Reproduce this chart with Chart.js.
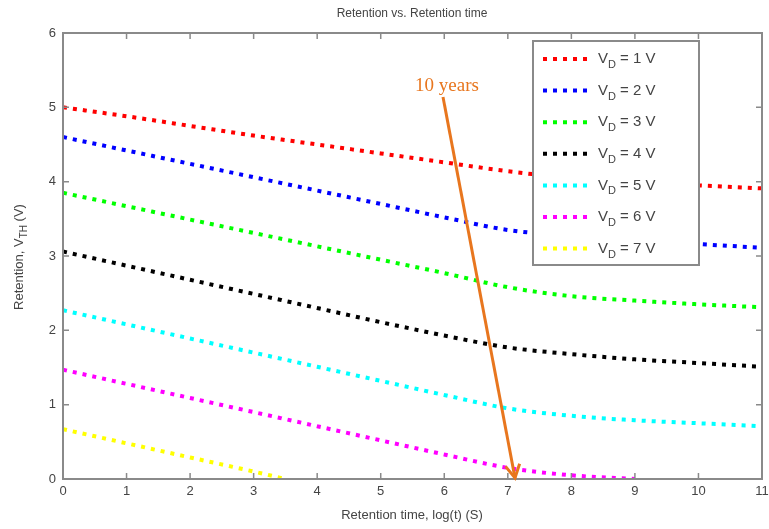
<!DOCTYPE html>
<html>
<head>
<meta charset="utf-8">
<script src="https://cdn.jsdelivr.net/npm/chart.js"></script>
<style>
  html, body { margin: 0; background: #fff; }
  #wrap { width: 769px; height: 529px; }
</style>
</head>
<body>
<div id="wrap"><canvas id="myChart"></canvas></div>
<script>
// retention time, log(t) (S)
const timeX = [0, 1, 2, 3, 4, 5, 6, 7, 8, 9, 10, 11];
const timeX6 = [0, 1, 2, 3, 4, 5, 6, 7, 8, 9];
const timeX7 = [0, 1, 2, 3, 3.5];

// threshold voltage V_TH (V) for each drain voltage
const vd1 = [5.00, 4.88, 4.75, 4.62, 4.50, 4.38, 4.26, 4.14, 4.05, 3.99, 3.95, 3.91];
const vd2 = [4.60, 4.42, 4.24, 4.06, 3.88, 3.70, 3.52, 3.35, 3.27, 3.21, 3.16, 3.11];
const vd3 = [3.85, 3.67, 3.49, 3.31, 3.13, 2.95, 2.77, 2.58, 2.46, 2.40, 2.35, 2.31];
const vd4 = [3.06, 2.87, 2.68, 2.49, 2.30, 2.11, 1.93, 1.77, 1.68, 1.61, 1.56, 1.51];
const vd5 = [2.27, 2.08, 1.89, 1.70, 1.51, 1.32, 1.13, 0.95, 0.85, 0.79, 0.75, 0.71];
const vd6 = [1.47, 1.28, 1.09, 0.90, 0.71, 0.52, 0.33, 0.15, 0.05, 0.00];
const vd7 = [0.67, 0.48, 0.29, 0.10, 0.00];

const drainVolts = [1, 2, 3, 4, 5, 6, 7];
const lineColors = ['#ff0000', '#0000ff', '#00ff00', '#000000', '#00ffff', '#ff00ff', '#ffff00'];
const xTicks = [0, 1, 2, 3, 4, 5, 6, 7, 8, 9, 10, 11];
const yTicks = [0, 1, 2, 3, 4, 5, 6];

const series = [
  [timeX, vd1], [timeX, vd2], [timeX, vd3], [timeX, vd4],
  [timeX, vd5], [timeX6, vd6], [timeX7, vd7]
];

const datasets = series.map((s, i) => ({
  label: 'VD = ' + drainVolts[i] + ' V',
  data: s[0].map((x, j) => ({ x: x, y: s[1][j] })),
  borderColor: lineColors[i],
  backgroundColor: lineColors[i],
  borderWidth: 4,
  borderDash: [4, 6],
  pointRadius: 0,
  cubicInterpolationMode: 'monotone',
  fill: false
}));

const axisGray = '#8a8a8a';
const textGray = '#444';
const orange = '#e8761e';

// frame, inward ticks, titles, legend and annotation
const extras = {
  id: 'extras',
  beforeDraw(chart) {
    const c = chart.ctx;
    c.save();
    c.fillStyle = '#fff';
    c.fillRect(0, 0, chart.width, chart.height);
    c.restore();
  },
  afterDraw(chart) {
    const c = chart.ctx;
    const a = chart.chartArea;
    const xs = chart.scales.x, ys = chart.scales.y;
    c.save();

    // box
    c.strokeStyle = axisGray;
    c.lineWidth = 2;
    c.strokeRect(a.left, a.top, a.right - a.left, a.bottom - a.top);

    // ticks pointing inward
    c.lineWidth = 1.5;
    c.beginPath();
    xTicks.forEach(v => {
      const px = xs.getPixelForValue(v);
      c.moveTo(px, a.bottom); c.lineTo(px, a.bottom - 6);
      c.moveTo(px, a.top); c.lineTo(px, a.top + 6);
    });
    yTicks.forEach(v => {
      const py = ys.getPixelForValue(v);
      c.moveTo(a.left, py); c.lineTo(a.left + 6, py);
      c.moveTo(a.right, py); c.lineTo(a.right - 6, py);
    });
    c.stroke();

    // chart title
    c.fillStyle = textGray;
    c.font = '12px "Liberation Sans", Arial, sans-serif';
    c.textAlign = 'center';
    c.textBaseline = 'middle';
    c.fillText('Retention vs. Retention time', 412, 14);

    // x axis title
    c.font = '13px "Liberation Sans", Arial, sans-serif';
    c.fillText('Retention time, log(t) (S)', 412, 515);

    // y axis title with subscript
    c.save();
    c.translate(19, 257);
    c.rotate(-Math.PI / 2);
    const main = 'Retention, V', sub = 'TH', tail = ' (V)';
    c.font = '13px "Liberation Sans", Arial, sans-serif';
    const w1 = c.measureText(main).width, w3 = c.measureText(tail).width;
    c.font = '10px "Liberation Sans", Arial, sans-serif';
    const w2 = c.measureText(sub).width;
    let x0 = -(w1 + w2 + w3) / 2;
    c.textAlign = 'left';
    c.font = '13px "Liberation Sans", Arial, sans-serif';
    c.fillText(main, x0, 0);
    c.font = '10px "Liberation Sans", Arial, sans-serif';
    c.fillText(sub, x0 + w1, 5);
    c.font = '13px "Liberation Sans", Arial, sans-serif';
    c.fillText(tail, x0 + w1 + w2, 0);
    c.restore();

    // annotation arrow
    const ax0 = 443, ay0 = 97, ax1 = 515, ay1 = 478;
    c.strokeStyle = orange;
    c.lineWidth = 3;
    c.beginPath();
    c.moveTo(ax0, ay0); c.lineTo(ax1, ay1);
    c.stroke();
    const ang = Math.atan2(ay1 - ay0, ax1 - ax0);
    c.beginPath();
    c.moveTo(ax1 - 15 * Math.cos(ang - 0.5), ay1 - 15 * Math.sin(ang - 0.5));
    c.lineTo(ax1, ay1);
    c.lineTo(ax1 - 15 * Math.cos(ang + 0.5), ay1 - 15 * Math.sin(ang + 0.5));
    c.stroke();
    c.fillStyle = orange;
    c.font = '19px "Liberation Serif", "Times New Roman", serif';
    c.textAlign = 'center';
    c.fillText('10 years', 447, 86);

    // legend
    const lx = 533, ly = 41, lw = 166, lh = 224;
    c.fillStyle = '#fff';
    c.fillRect(lx, ly, lw, lh);
    c.strokeStyle = axisGray;
    c.lineWidth = 2;
    c.strokeRect(lx, ly, lw, lh);
    drainVolts.forEach((v, i) => {
      const ry = 59 + i * 31.6;
      c.strokeStyle = lineColors[i];
      c.lineWidth = 4;
      c.setLineDash([4, 6]);
      c.beginPath();
      c.moveTo(543, ry); c.lineTo(591, ry);
      c.stroke();
      c.setLineDash([]);
      c.fillStyle = textGray;
      c.textAlign = 'left';
      c.font = '15px "Liberation Sans", Arial, sans-serif';
      c.fillText('V', 598, ry);
      const vw = c.measureText('V').width;
      c.font = '11px "Liberation Sans", Arial, sans-serif';
      c.fillText('D', 598 + vw, ry + 6);
      const dw = c.measureText('D').width;
      c.font = '15px "Liberation Sans", Arial, sans-serif';
      c.fillText(' = ' + v + ' V', 598 + vw + dw, ry);
    });

    c.restore();
  }
};

const ctx = document.getElementById('myChart');

new Chart(ctx, {
  type: 'line',
  data: { datasets: datasets },
  plugins: [extras],
  options: {
    responsive: true,
    maintainAspectRatio: false,
    animation: false,
    layout: { padding: { left: 0, right: 7, top: 33, bottom: 0 } },
    plugins: {
      legend: { display: false },
      title: { display: false },
      tooltip: { enabled: false }
    },
    scales: {
      x: {
        type: 'linear',
        min: 0,
        max: 11,
        afterFit: s => { s.height = 50; s.paddingLeft = 0; s.paddingRight = 0; },
        afterBuildTicks: s => { s.ticks = xTicks.map(v => ({ value: v })); },
        grid: { display: false, drawTicks: false },
        border: { display: false },
        ticks: {
          color: textGray,
          padding: 5,
          font: { family: '"Liberation Sans", Arial, sans-serif', size: 13 }
        }
      },
      y: {
        min: 0,
        max: 6,
        afterFit: s => { s.width = 63; s.paddingTop = 0; s.paddingBottom = 0; },
        afterBuildTicks: s => { s.ticks = yTicks.map(v => ({ value: v })); },
        grid: { display: false, drawTicks: false },
        border: { display: false },
        ticks: {
          color: textGray,
          padding: 7,
          font: { family: '"Liberation Sans", Arial, sans-serif', size: 13 }
        }
      }
    }
  }
});
</script>
</body>
</html>
